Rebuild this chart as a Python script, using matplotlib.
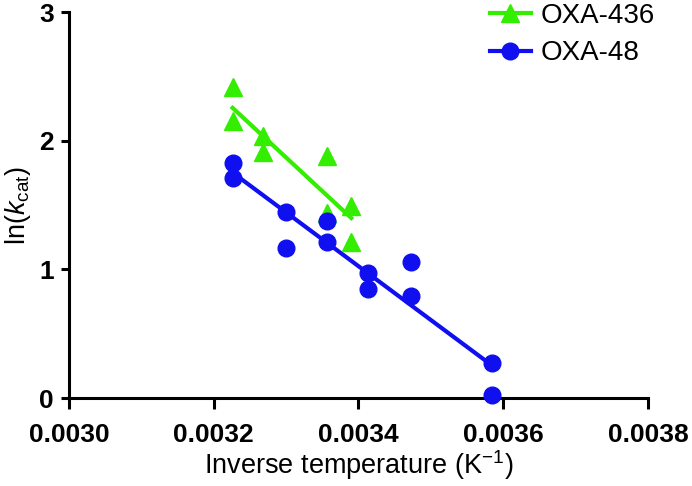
import numpy as np
import matplotlib.pyplot as plt

plt.rcParams['font.family'] = ['Liberation Sans', 'DejaVu Sans']
plt.rcParams['mathtext.fontset'] = 'custom'
plt.rcParams['mathtext.rm'] = 'Liberation Sans'
plt.rcParams['mathtext.it'] = 'Liberation Sans:italic'

# inverse temperature (1/K) and ln(kcat)
oxa436_x = [0.003226, 0.003226, 0.003268, 0.003268, 0.003356, 0.003356, 0.003390, 0.003390]
oxa436_y = [2.42, 2.15, 2.04, 1.91, 1.88, 1.44, 1.49, 1.21]
oxa48_x = [0.003226, 0.003226, 0.003300, 0.003300, 0.003356, 0.003356,
           0.003413, 0.003413, 0.003472, 0.003472, 0.003584, 0.003584]
oxa48_y = [1.83, 1.71, 1.45, 1.17, 1.38, 1.21, 0.97, 0.85, 1.06, 0.79, 0.27, 0.02]

green = '#33EE00'
blue = '#0F0FF0'


def fit_line(x, y):
    x = np.asarray(x)
    slope, icept = np.polyfit(x, np.asarray(y), 1)
    xs = np.array([x.min(), x.max()])
    return xs, slope * xs + icept


fig = plt.figure(figsize=(6.92, 4.86), dpi=100)
ax = fig.add_axes([0.0997, 0.181, 0.8367, 0.794])

for xs, ys, col, mk, ms, lab in [(oxa436_x, oxa436_y, green, '^', 13, 'OXA-436'),
                                 (oxa48_x, oxa48_y, blue, 'o', 12, 'OXA-48')]:
    fx, fy = fit_line(xs, ys)
    ax.plot(fx, fy, color=col, lw=3, zorder=3)
    ax.plot(xs, ys, ls='none', marker=mk, ms=ms, color=col, mec=col,
            clip_on=False, zorder=4)
    # legend handle: line + marker
    ax.plot([], [], color=col, lw=3, marker=mk, ms=ms, label=lab)

ax.set_xlim(0.0030, 0.0038)
ax.set_ylim(0, 3)
ax.set_xticks([0.0030, 0.0032, 0.0034, 0.0036, 0.0038])
ax.set_xticklabels(['%.4f' % v for v in ax.get_xticks()])
ax.set_yticks([0, 1, 2, 3])

for s in ['top', 'right']:
    ax.spines[s].set_visible(False)
for s in ['left', 'bottom']:
    ax.spines[s].set_linewidth(2.2)
ax.tick_params(width=2.2, labelsize=19)
ax.tick_params(axis='x', length=8, pad=10)
ax.tick_params(axis='y', length=6, pad=5)
for t in ax.get_xticklabels() + ax.get_yticklabels():
    t.set_fontweight('bold')

ax.set_xlabel(r'Inverse temperature (K$^{-1}$)', fontsize=19.5, labelpad=1)
ax.set_ylabel(r'ln($\mathit{k}_{\mathrm{cat}}$)', fontsize=19.5, labelpad=4)

fig.legend(loc='upper right', bbox_to_anchor=(0.983, 1.045), frameon=False,
           fontsize=20, handlelength=1.5, handletextpad=0.35, labelspacing=0.4)

fig.savefig('out.png', dpi=100)
